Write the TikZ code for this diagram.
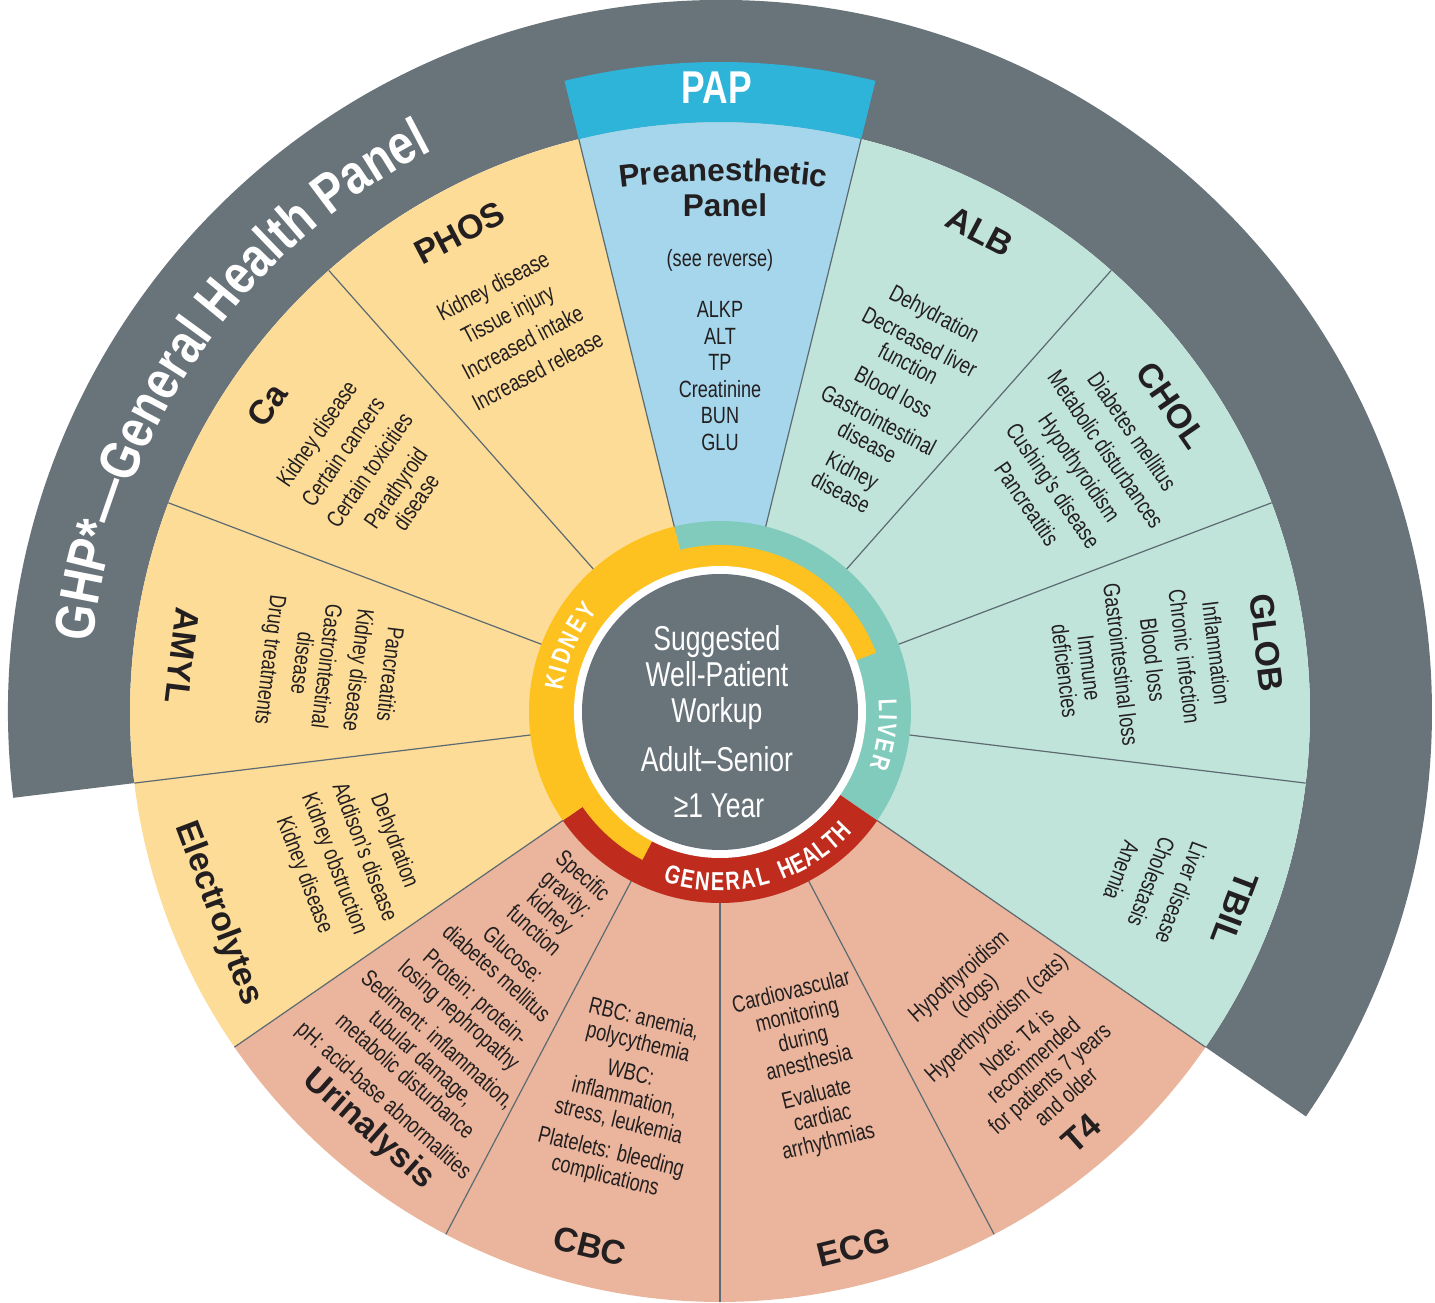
\documentclass[tikz,border=0pt]{standalone}
\usepackage{fontspec}
\setmainfont{Liberation Sans}[FakeStretch=0.77]
\newfontfamily\titlefont{Liberation Sans}
\newfontfamily\ghpfont{Liberation Sans}[FakeStretch=0.82]
\usetikzlibrary{decorations.text}
\definecolor{ywedge}{HTML}{FDDC97}
\definecolor{mwedge}{HTML}{C1E4DA}
\definecolor{swedge}{HTML}{EAB59C}
\definecolor{bwedge}{HTML}{A5D6EB}
\definecolor{papband}{HTML}{2EB3D9}
\definecolor{gband}{HTML}{68737A}
\definecolor{kring}{HTML}{FDC21F}
\definecolor{lring}{HTML}{81CBBC}
\definecolor{rring}{HTML}{BF2C1D}
\definecolor{divc}{HTML}{5C6A72}
\definecolor{ink}{HTML}{231F20}
\newcommand\annsec[5]{\fill[#1] (#2:#4pt) arc[start angle=#2,end angle=#3,radius=#4pt] -- (#3:#5pt) arc[start angle=#3,end angle=#2,radius=#5pt] -- cycle;}
\newcommand\wedgesec[3]{\fill[#1] (0,0) -- (#2:590pt) arc[start angle=#2,end angle=#3,radius=590pt] -- cycle;}
\begin{document}
\begin{tikzpicture}[x=1pt,y=1pt,
  ttl/.style={font=\titlefont\bfseries\fontsize{34}{36}\selectfont, text=ink, inner sep=0pt, anchor=center},
  lst/.style={font=\fontsize{23.5}{24.5}\selectfont, text=ink, inner sep=0pt, align=center, anchor=center},
  ringl/.style={font=\bfseries\fontsize{26}{28}\selectfont, text=white, inner sep=0pt, anchor=center},
  ctr/.style={font=\fontsize{34.5}{36}\selectfont, text=white, inner sep=0pt, anchor=base},
  paplst/.style={font=\fontsize{23.5}{26}\selectfont, text=ink, inner sep=0pt, anchor=base},
  divline/.style={draw=divc, line width=1.2pt}]
\useasboundingbox (-720,-591) rectangle (715,712);
% outer grey band
\annsec{gband}{-34.6154}{186.9231}{590}{712}
% wedges
\wedgesec{ywedge}{103.8462}{214.6154}
\wedgesec{mwedge}{-34.6154}{76.1538}
\wedgesec{bwedge}{76.1538}{103.8462}
\wedgesec{swedge}{214.6154}{325.3846}
% PAP band
\annsec{papband}{76.1538}{103.8462}{590}{650}
% dividers
\foreach \b in {-90,-62.3077,-34.6154,-6.9231,20.7692,48.4615,76.1538,103.8462,131.5385,159.2308,186.9231,214.6154,242.3077}
  \draw[divline] (\b:185pt) -- (\b:590pt);
% rings
\annsec{lring}{-34.6154}{103.8462}{145}{191}
\annsec{rring}{-145.3846}{-34.6154}{145}{191}
\annsec{kring}{103.8462}{214.6154}{145}{191}
\annsec{kring}{20.7692}{103.8462}{145}{167}
\annsec{kring}{214.6154}{242.3077}{145}{167}
\fill[white] (0,0) circle[radius=146pt];
\fill[gband] (0,0) circle[radius=138pt];
% centre text
\node[ctr] (c1) at (-3,61) {Suggested};
\node[ctr] (c2) at (-3,25.3) {Well-Patient};
\node[ctr] (c3) at (-3,-11) {Workup};
\node[ctr] (c4) at (-3,-59.7) {Adult–Senior};
\node[ctr] (c5) at (-1,-106) {≥1 Year};
% ring labels
\foreach \c/\a [count=\i] in {K/169.8,I/165.2,D/160.6,N/154.5,E/148.6,Y/142.9}
  \node[ringl, rotate=\a-90] (kid\i) at (\a:168pt) {\c};
\foreach \c/\a [count=\i] in {L/2.3,I/-1.87,V/-6.22,E/-11.79,R/-17.53}
  \node[ringl, rotate=\a-90] (liv\i) at (\a:168pt) {\c};
\foreach \c/\a [count=\i] in {G/-106.1,E/-101.0,N/-95.9,E/-90.8,R/-85.7,A/-80.6,L/-75.5,H/-67.3,E/-62.7,A/-58.2,L/-53.6,T/-49.1,H/-44.5}
  \node[ringl, rotate=\a+90] (gh\i) at (\a:170pt) {\c};
% GHP band text
\path[decorate, decoration={text along path, text color=white, text align=center,
  text={|\ghpfont\bfseries\fontsize{56}{60}\selectfont|GHP*—General Health Panel}}]
  (185.4:631pt) arc[start angle=185.4, end angle=105.4, radius=631pt];
% PAP
\node[font=\bfseries\fontsize{46}{48}\selectfont, text=white, inner sep=0pt] (pap) at (-3,624.5) {PAP};
\path[decorate, decoration={text along path, text color=ink, text align=center,
  text={|\titlefont\bfseries\fontsize{31.5}{33}\selectfont|Preanesthetic}}]
  (-270.6,482.8) arc[start angle=110, end angle=70, radius=800pt];
\node[font=\titlefont\bfseries\fontsize{31.5}{33}\selectfont, text=ink, inner sep=0pt, anchor=base] (panel) at (5,495.3) {Panel};
\node[paplst] (seerev) at (0,445) {(see reverse)};
\foreach \t/\y [count=\i] in {ALKP/394.6,ALT/367.6,TP/341.6,Creatinine/314.6,BUN/288.6,GLU/261.6}
  \node[paplst] (papi\i) at (0,\y) {\t};
% titles
\node[ttl, rotate=27.69] (phosT) at (118.5:545pt) {PHOS};
\node[ttl, rotate=55.38] (caT) at (145.9:547pt) {Ca};
\node[ttl, rotate=-96.92] (amylT) at (174:541pt) {AMYL};
\node[ttl, rotate=-69.23] (elecT) at (201.9:541pt) {Electrolytes};
\node[ttl, rotate=-41.54] (uriT) at (229.9:546pt) {Urinalysis};
\node[ttl, rotate=-13.85] (cbcT) at (256.3:550pt) {CBC};
\node[ttl, rotate=13.85] (ecgT) at (-76:552pt) {ECG};
\node[ttl, rotate=41.54] (t4T) at (-49.4:555pt) {T4};
\node[ttl, rotate=-110.77] (tbilT) at (-20.9:551pt) {TBIL};
\node[ttl, rotate=-83.08] (globT) at (7.2:551pt) {GLOB};
\node[ttl, rotate=-55.38] (cholT) at (34.2:546pt) {CHOL};
\node[ttl, rotate=-27.69] (albT) at (61.6:546pt) {ALB};
% lists
\node[lst, rotate=27.69] (phosL) at (118.1:435pt) {Kidney disease\\[7.5pt]Tissue injury\\[7.5pt]Increased intake\\[7.5pt]Increased release};
\node[lst, rotate=55.38] (caL) at (145.4:430pt) {Kidney disease\\[7.5pt]Certain cancers\\[7.5pt]Certain toxicities\\[7.5pt]Parathyroid\\disease};
\node[lst, rotate=-96.92] (amylL) at (173.4:394pt) {Pancreatitis\\[7.5pt]Kidney disease\\[7.5pt]Gastrointestinal\\disease\\[7.5pt]Drug treatments};
\node[lst, rotate=-69.23] (elecL) at (201.5:399pt) {Dehydration\\[7.5pt]Addison’s disease\\[7.5pt]Kidney obstruction\\[7.5pt]Kidney disease};
\node[lst, rotate=-41.54] (uriL) at (229.4:365pt) {Specific\\gravity:\\kidney\\function\\[7.5pt]Glucose:\\diabetes mellitus\\[7.5pt]Protein: protein-\\losing nephropathy\\[7.5pt]Sediment: inflammation,\\tubular damage,\\metabolic disturbance\\[7.5pt]pH: acid-base abnormalities};
\node[lst, rotate=-13.85] (cbcL) at (256.1:398pt) {RBC: anemia,\\polycythemia\\[7.5pt]WBC:\\inflammation,\\stress, leukemia\\[7.5pt]Platelets: bleeding\\complications};
\node[lst, rotate=13.85] (ecgL) at (-75.8:367pt) {Cardiovascular\\monitoring\\during\\anesthesia\\[7.5pt]Evaluate\\cardiac\\arrhythmias};
\node[lst, rotate=41.54] (t4L) at (-48:436pt) {Hypothyroidism\\(dogs)\\[7.5pt]Hyperthyroidism (cats)\\[7.5pt]Note: T4 is\\recommended\\for patients 7 years\\and older};
\node[lst, rotate=-110.77] (tbilL) at (-21.5:464pt) {Liver disease\\[7.5pt]Cholestasis\\[7.5pt]Anemia};
\node[lst, rotate=-83.08] (globL) at (6.8:424pt) {Inflammation\\[7.5pt]Chronic infection\\[7.5pt]Blood loss\\[7.5pt]Gastrointestinal loss\\[7.5pt]Immune\\deficiencies};
\node[lst, rotate=-55.38] (cholL) at (34.2:435pt) {Diabetes mellitus\\[7.5pt]Metabolic disturbances\\[7.5pt]Hypothyroidism\\[7.5pt]Cushing’s disease\\[7.5pt]Pancreatitis};
\node[lst, rotate=-27.69] (albL) at (61.5:352pt) {Dehydration\\[7.5pt]Decreased liver\\function\\[7.5pt]Blood loss\\[7.5pt]Gastrointestinal\\disease\\[7.5pt]Kidney\\disease};
\end{tikzpicture}
\end{document}
